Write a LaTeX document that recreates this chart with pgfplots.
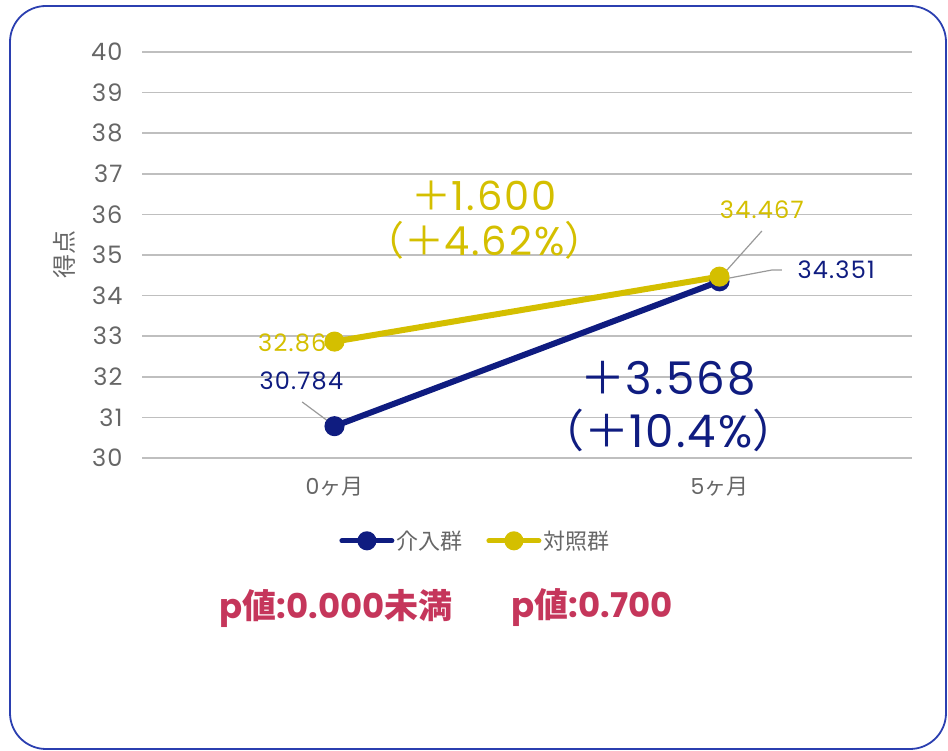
\documentclass[border=0pt]{standalone}
\usepackage{fontspec}
\setmainfont{Poppins}
\newfontfamily\wide{Poppins}[LetterSpace=5]
\newfontfamily\cjk{Noto Sans CJK JP}
\usepackage{pgfplots}
\pgfplotsset{compat=1.18}
\definecolor{navy}{HTML}{0F1C80}
\definecolor{gold}{HTML}{D4BF00}
\definecolor{crim}{HTML}{C5365B}
\definecolor{tgray}{HTML}{666666}
\definecolor{grid}{HTML}{D9D9D9}
\definecolor{frame}{HTML}{2B3FB0}
\begin{document}
\begin{tikzpicture}
\path (0pt,0pt) rectangle (948pt,751pt);
\draw[frame, line width=1.8pt, rounded corners=36pt] (10pt,2pt) rectangle (946pt,745pt);
\begin{axis}[
  at={(142pt,293pt)}, anchor=south west,
  width=770pt, height=406pt, scale only axis,
  xmin=-0.5, xmax=1.5, ymin=30, ymax=40,
  xtick={0,1}, xticklabels={0{\cjk ヶ月},5{\cjk ヶ月}},
  ytick={30,31,...,40},
  axis line style={draw=none},
  major tick length=0pt,
  xmajorgrids=false, ymajorgrids=true, grid style={grid, line width=1.6pt},
  tick label style={tgray},
  yticklabel style={font=\wide\fontsize{24}{24}\selectfont, xshift=-16pt},
  xticklabel style={font=\fontsize{22}{22}\selectfont, yshift=-16pt},
  ylabel={\cjk 得点}, ylabel style={tgray, font=\fontsize{24}{24}\selectfont, at={(axis description cs:-0.082,0.5)}},
  /pgf/number format/assume math mode=true,
  clip=false,
  legend columns=2,
  legend style={draw=none, fill=none, at={(0.433,-0.204)}, anchor=center,
    font=\cjk\fontsize{22}{22}\selectfont, text=tgray,
    /tikz/every even column/.append style={column sep=22pt}},
  legend image code/.code={
    \draw[#1, line width=5pt, line cap=round] (0pt,0pt) -- (50pt,0pt);
    \fill[#1] (25pt,0pt) circle (6.5pt);},
]
\addplot[navy, line width=6pt, mark=*, mark size=7pt, mark options={solid}] coordinates {(0,30.784) (1,34.351)};
\addlegendentry{介入群}
\addplot[gold, line width=6pt, mark=*, mark size=7pt, mark options={solid}] coordinates {(0,32.867) (1,34.467)};
\addlegendentry{対照群}
% leader lines
\draw[gray!80, line width=1.2pt] (axis cs:-0.084,31.38) -- (axis cs:-0.010,30.86);
\draw[gray!80, line width=1.2pt] (axis cs:1.110,35.59) -- (axis cs:1.010,34.53);
\draw[gray!80, line width=1.2pt] (axis cs:1.013,34.41) -- (axis cs:1.136,34.63) -- (axis cs:1.162,34.63);
% data labels
\node[gold, font=\wide\fontsize{24}{24}\selectfont] at (axis cs:-0.091,32.83) {32.867};
\node[navy, font=\wide\fontsize{24}{24}\selectfont] at (axis cs:-0.086,31.90) {30.784};
\node[gold, font=\wide\fontsize{24}{24}\selectfont] at (axis cs:1.110,36.11) {34.467};
\node[navy, font=\wide\fontsize{24}{24}\selectfont] at (axis cs:1.303,34.63) {34.351};
% change annotations
\node[gold, font=\wide\fontsize{40}{40}\selectfont] at (axis cs:0.389,36.45) {{\cjk ＋}1.600};
\node[gold, font=\wide\fontsize{40}{40}\selectfont] at (axis cs:0.389,35.37) {{\cjk （＋}4.62\%{\cjk ）}};
\node[navy, font=\wide\fontsize{45}{45}\selectfont] at (axis cs:0.867,31.95) {{\cjk ＋}3.568};
\node[navy, font=\wide\fontsize{45}{45}\selectfont] at (axis cs:0.867,30.69) {{\cjk （＋}10.4\%{\cjk ）}};
\end{axis}
\node[crim, font=\bfseries\fontsize{34}{34}\selectfont, anchor=west] at (216pt,143pt) {p{\cjk\bfseries 値}:0.000{\cjk\bfseries 未満}};
\node[crim, font=\bfseries\fontsize{34}{34}\selectfont, anchor=west] at (508pt,143pt) {p{\cjk\bfseries 値}:0.700};
\end{tikzpicture}
\end{document}
